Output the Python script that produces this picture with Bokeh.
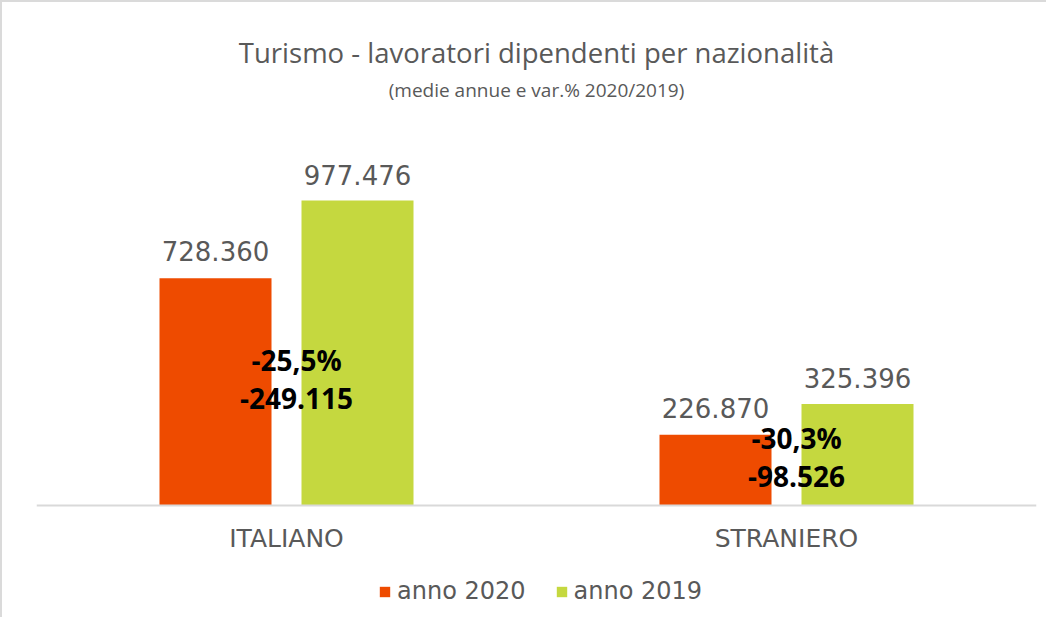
from bokeh.plotting import figure
from bokeh.models import (ColumnDataSource, FactorRange, Range1d, Legend, LegendItem,
                          Title, LabelSet)
from bokeh.core.properties import value
from bokeh.transform import dodge
from bokeh.embed import file_html
from bokeh.resources import INLINE

# ---- data ----
title_text = "Turismo - lavoratori dipendenti per nazionalità"
subtitle_text = "(medie annue e var.% 2020/2019)"
categories = ["ITALIANO", "STRANIERO"]
series_labels = ["anno 2020", "anno 2019"]
values_2020 = [728360, 226870]
values_2019 = [977476, 325396]
var_pct_labels = ["-25,5%", "-30,3%"]
var_abs_labels = ["-249.115", "-98.526"]


def it_fmt(v):
    return f"{v:,}".replace(",", ".")


GRAY = "#595959"
ORANGE = "#EE4B00"
GREEN = "#C5D83F"
LINE = "#D9D9D9"

source = ColumnDataSource(data=dict(
    cat=categories,
    v2020=values_2020,
    v2019=values_2019,
    l2020=[it_fmt(v) for v in values_2020],
    l2019=[it_fmt(v) for v in values_2019],
    pct=var_pct_labels,
    diff=var_abs_labels,
    mid=[v / 2 for v in values_2020],
))

# layout: 400 px of plot between the zero line and Y_TOP, plus room below the zero line
Y_TOP = 1_282_000
PLOT_PX = 400
FRAME_PX = 508
Y_BOTTOM = -(FRAME_PX - PLOT_PX) * Y_TOP / PLOT_PX

p = figure(x_range=FactorRange(*categories), y_range=Range1d(Y_BOTTOM, Y_TOP),
           frame_width=1000, frame_height=FRAME_PX,
           min_border_left=34, min_border_right=10, min_border_top=0, min_border_bottom=4,
           y_axis_location=None,
           output_backend="svg", toolbar_location=None, tools="")
p.title.text = ""

OFF = 0.142
W = 0.224
r20 = p.vbar(x=dodge("cat", -OFF, range=p.x_range), top="v2020", width=W, source=source,
             fill_color=ORANGE, line_color=None)
r19 = p.vbar(x=dodge("cat", OFF, range=p.x_range), top="v2019", width=W, source=source,
             fill_color=GREEN, line_color=None)

common = dict(source=source, text_align="center", text_baseline="alphabetic")
p.add_layout(LabelSet(x=dodge("cat", -OFF, range=p.x_range), y="v2020", text="l2020",
                      y_offset=17, text_font=value("DejaVu Sans"), text_font_size="26px",
                      text_color=GRAY, **common))
p.add_layout(LabelSet(x=dodge("cat", OFF, range=p.x_range), y="v2019", text="l2019",
                      y_offset=16, text_font=value("DejaVu Sans"), text_font_size="26px",
                      text_color=GRAY, **common))
p.add_layout(LabelSet(x="cat", y="mid", text="pct", x_offset=10, y_offset=21,
                      text_font=value("Open Sans"), text_font_style="bold",
                      text_font_size="28px", text_color="black", **common))
p.add_layout(LabelSet(x="cat", y="mid", text="diff", x_offset=10, y_offset=-17,
                      text_font=value("Open Sans"), text_font_style="bold",
                      text_font_size="28px", text_color="black", **common))

ax = p.xaxis[0]
ax.fixed_location = 0
ax.axis_line_color = LINE
ax.axis_line_width = 2
ax.major_tick_line_color = None
ax.major_tick_out = 0
ax.major_tick_in = 0
ax.major_label_text_font = "DejaVu Sans"
ax.major_label_text_font_size = "25px"
ax.major_label_text_color = GRAY
ax.major_label_standoff = 18

p.xgrid.visible = False
p.ygrid.visible = False
p.outline_line_color = None
p.background_fill_color = "white"
p.border_fill_color = "white"

sub = Title(text=subtitle_text, align="center", text_font="Open Sans", text_font_size="19px",
            text_color=GRAY, text_font_style="normal", standoff=5)
main = Title(text=title_text, align="center", text_font="Open Sans", text_font_size="27.5px",
             text_color=GRAY, text_font_style="normal", standoff=3)
spacer_top = Title(text=" ", text_font="Open Sans", text_font_size="19px", standoff=0)
p.add_layout(sub, "above")
p.add_layout(main, "above")
p.add_layout(spacer_top, "above")

legend = Legend(items=[LegendItem(label=series_labels[0], renderers=[r20]),
                       LegendItem(label=series_labels[1], renderers=[r19])],
                orientation="horizontal", location=(342, 8),
                glyph_width=13, glyph_height=13, label_standoff=6, spacing=29,
                padding=0, margin=0, border_line_color=None, background_fill_alpha=0,
                label_text_font="DejaVu Sans", label_text_font_size="24px",
                label_text_color=GRAY)
p.add_layout(legend, "center")

p.styles = {"border-top": "2px solid #DADADA", "border-left": "2px solid #DADADA"}

open("out.html", "w").write(file_html(p, INLINE))
